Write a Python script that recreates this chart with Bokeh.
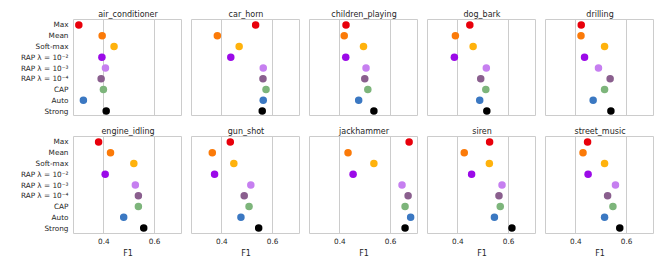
from bokeh.plotting import figure
from bokeh.layouts import gridplot
from bokeh.models import FactorRange, Range1d, FixedTicker, Title, ColumnDataSource
from bokeh.embed import file_html
from bokeh.resources import INLINE

methods = ["Max", "Mean", "Soft-max", "RAP λ = 10⁻²", "RAP λ = 10⁻³",
           "RAP λ = 10⁻⁴", "CAP", "Auto", "Strong"]
method_colors = ["#e8000b", "#fb7a08", "#ffb20c", "#9b0ae8", "#c67ff0",
                 "#8a5f8e", "#7db57b", "#3b78c2", "#000000"]

classes = ["air_conditioner", "car_horn", "children_playing", "dog_bark", "drilling",
           "engine_idling", "gun_shot", "jackhammer", "siren", "street_music"]

f1_air_conditioner = [0.301, 0.393, 0.440, 0.392, 0.406, 0.389, 0.398, 0.319, 0.409]
f1_car_horn = [0.533, 0.382, 0.468, 0.435, 0.563, 0.562, 0.574, 0.563, 0.559]
f1_children_playing = [0.424, 0.417, 0.493, 0.423, 0.503, 0.498, 0.510, 0.474, 0.534]
f1_dog_bark = [0.447, 0.390, 0.460, 0.386, 0.512, 0.490, 0.510, 0.486, 0.514]
f1_drilling = [0.421, 0.420, 0.513, 0.434, 0.489, 0.535, 0.513, 0.468, 0.538]
f1_engine_idling = [0.379, 0.426, 0.518, 0.405, 0.524, 0.536, 0.536, 0.478, 0.557]
f1_gun_shot = [0.433, 0.362, 0.447, 0.371, 0.514, 0.488, 0.507, 0.475, 0.545]
f1_jackhammer = [0.673, 0.432, 0.534, 0.452, 0.645, 0.669, 0.657, 0.679, 0.657]
f1_siren = [0.525, 0.425, 0.524, 0.454, 0.574, 0.562, 0.567, 0.544, 0.613]
f1_street_music = [0.446, 0.428, 0.513, 0.448, 0.556, 0.525, 0.546, 0.513, 0.573]

all_f1 = [f1_air_conditioner, f1_car_horn, f1_children_playing, f1_dog_bark, f1_drilling,
          f1_engine_idling, f1_gun_shot, f1_jackhammer, f1_siren, f1_street_music]

x_ticks = [0.4, 0.6]
x_tick_labels = {0.4: "0.4", 0.6: "0.6"}

FONT = "DejaVu Sans"
TXT = "#262626"
GRID = "#cccccc"

figs = []
for i, (name, vals) in enumerate(zip(classes, all_f1)):
    row, col = divmod(i, 5)
    p = figure(
        x_range=Range1d(0.28, 0.71),
        y_range=FactorRange(factors=list(reversed(methods)), range_padding=0),
        frame_width=109, frame_height=97,
        output_backend="svg", toolbar_location=None,
        min_border_left=73 if col == 0 else 9,
        min_border_right=0,
        min_border_top=19 if row == 0 else 20,
        min_border_bottom=0,
        background_fill_color="white", border_fill_color="white",
    )
    p.title = Title(text=name, align="center", text_font=FONT, text_font_size="8px",
                    text_font_style="normal", text_color=TXT, standoff=2)
    p.outline_line_color = GRID
    p.outline_line_width = 1

    src = ColumnDataSource(dict(x=vals, y=methods, color=method_colors))
    p.scatter("x", "y", source=src, size=7.5, fill_color="color", line_color=None)

    p.ygrid.visible = False
    p.xgrid.ticker = FixedTicker(ticks=x_ticks)
    p.xgrid.grid_line_color = GRID
    p.xgrid.grid_line_width = 1

    ya = p.yaxis[0]
    ya.axis_line_color = None
    ya.major_tick_line_color = None
    ya.minor_tick_line_color = None
    ya.major_tick_out = 0
    ya.major_tick_in = 0
    ya.minor_tick_out = 0
    ya.major_label_text_font = FONT
    ya.major_label_text_font_size = "7.3px"
    ya.major_label_text_color = TXT
    ya.major_label_standoff = 5
    if col != 0:
        ya.visible = False

    xa = p.xaxis[0]
    xa.ticker = FixedTicker(ticks=x_ticks)
    xa.major_label_overrides = x_tick_labels
    xa.axis_line_color = None
    xa.major_tick_line_color = None
    xa.minor_tick_line_color = None
    xa.major_tick_out = 0
    xa.major_tick_in = 0
    xa.minor_tick_out = 0
    xa.major_label_text_font = FONT
    xa.major_label_text_font_size = "7.3px"
    xa.major_label_text_color = TXT
    xa.major_label_standoff = 4
    if row == 0:
        xa.visible = False
    else:
        xa.axis_label = "F1"
        xa.axis_label_text_font = FONT
        xa.axis_label_text_font_size = "8px"
        xa.axis_label_text_font_style = "normal"
        xa.axis_label_text_color = TXT
        xa.axis_label_standoff = 2
    figs.append(p)

grid = gridplot([figs[0:5], figs[5:10]], toolbar_location=None)

with open("out.html", "w") as f:
    f.write(file_html(grid, INLINE))
